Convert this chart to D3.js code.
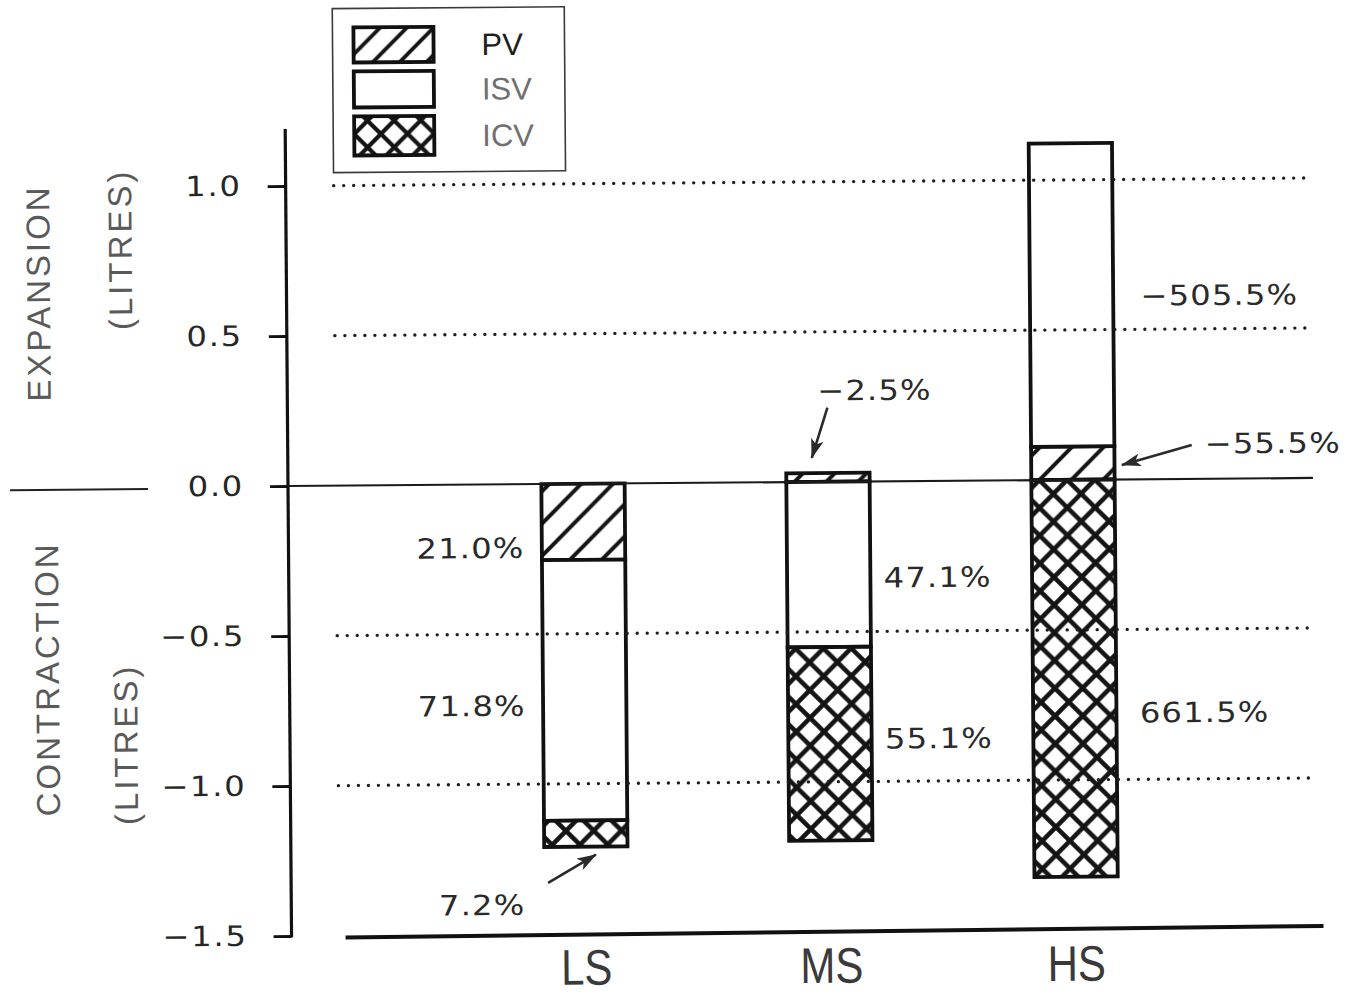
<!DOCTYPE html>
<html>
<head>
<meta charset="utf-8">
<script src="https://cdn.jsdelivr.net/npm/d3@7"></script>
<style>
  body { margin: 0; background: #fff; }
  svg { display: block; }
</style>
</head>
<body>
<svg id="chart" width="1353" height="996"></svg>
<script>
// ---- data -------------------------------------------------------------
const conditions = ["LS", "MS", "HS"];
const components = ["PV", "ISV", "ICV"];
// net volume change of each condition (litres)
const netChange = [-1.21, -1.17, -0.20];
// share of the net change carried by each component (%)
const pvShare  = [21.0, -2.5, -55.5];
const isvShare = [71.8, 47.1, -505.5];
const icvShare = [7.2, 55.1, 661.5];
// y axis
const yTicks = [1.0, 0.5, 0.0, -0.5, -1.0, -1.5];
const gridLevels = [1.0, 0.5, -0.5, -1.0];
const axisTop = 1.19;

// where each share label sits: px offset from the bar centre, height in litres
const labelLayout = [
  { cond: "LS", key: "PV",  anchor: "end",   dx: -59, at: -0.212 },
  { cond: "LS", key: "ISV", anchor: "end",   dx: -59, at: -0.738 },
  { cond: "LS", key: "ICV", anchor: "end",   dx: -61, at: -1.402,
    arrow: { fromDx: -38, fromAt: -1.33, toDx: 10, toAt: -1.237 } },
  { cond: "MS", key: "PV",  anchor: "start", dx: -10, at: 0.305,
    arrow: { fromDx: 0, fromAt: 0.247, toDx: -16, toAt: 0.08 } },
  { cond: "MS", key: "ISV", anchor: "start", dx: 55,  at: -0.32 },
  { cond: "MS", key: "ICV", anchor: "start", dx: 55,  at: -0.857 },
  { cond: "HS", key: "ISV", anchor: "start", dx: 69,  at: 0.613 },
  { cond: "HS", key: "PV",  anchor: "start", dx: 132, at: 0.118,
    arrow: { fromDx: 119, fromAt: 0.113, toDx: 49, toAt: 0.048 } },
  { cond: "HS", key: "ICV", anchor: "start", dx: 65,  at: -0.777 }
];

// ---- derived table ----------------------------------------------------
const shares = { PV: pvShare, ISV: isvShare, ICV: icvShare };
const rows = conditions.map((c, i) => {
  const r = { cond: c };
  components.forEach(k => { r[k] = shares[k][i] / 100 * netChange[i]; });
  return r;
});
const stacked = d3.stack().keys(components).offset(d3.stackOffsetDiverging)(rows);

// ---- scales -----------------------------------------------------------
const x = d3.scaleBand().domain(conditions).range([338, 1318])
  .paddingInner(0.66).paddingOuter(0.83);
const y = d3.scaleLinear().domain([-1.5, 1.0]).range([936, 186]);
const axisX = 288;
const numFont = "'DejaVu Sans', sans-serif";
const wordFont = "'Liberation Sans', Arial, sans-serif";

const svg = d3.select("#chart");
const defs = svg.append("defs");

// hatch patterns, one per bar so that every bar starts on the same phase
function hatchPath(p) {
  return `M0,${p} L${p},0 M-3,3 L3,-3 M${p - 3},${p + 3} L${p + 3},${p - 3}`;
}
function crossPath(p) {
  return `M-3,-3 L${p + 3},${p + 3} M${p + 3},-3 L-3,${p + 3}` +
         ` M-3,3 L3,-3 M${p - 3},-3 L${p + 3},3 M-3,${p - 3} L3,${p + 3} M${p - 3},${p + 3} L${p + 3},${p - 3}`;
}
function addPatterns(id, x0, y0, pHatch, pCross, wHatch, wCross) {
  const h = defs.append("pattern").attr("id", "pv-" + id)
    .attr("patternUnits", "userSpaceOnUse")
    .attr("x", x0).attr("y", y0).attr("width", pHatch).attr("height", pHatch);
  h.append("rect").attr("width", pHatch).attr("height", pHatch).attr("fill", "#fff");
  h.append("path").attr("d", hatchPath(pHatch))
    .attr("stroke", "#141414").attr("stroke-width", wHatch).attr("fill", "none");
  const c = defs.append("pattern").attr("id", "icv-" + id)
    .attr("patternUnits", "userSpaceOnUse")
    .attr("x", x0).attr("y", y0).attr("width", pCross).attr("height", pCross);
  c.append("rect").attr("width", pCross).attr("height", pCross).attr("fill", "#fff");
  c.append("path").attr("d", crossPath(pCross))
    .attr("stroke", "#141414").attr("stroke-width", wCross).attr("fill", "none");
}
conditions.forEach(c => addPatterns(c, x(c) + 8, y(0), 32, x.bandwidth() / 3, 4, 4.6));
addPatterns("legend", 357, 28, 27, 80 / 3, 3.8, 4.2);

const fillFor = (key, id) => key === "PV" ? `url(#pv-${id})` : key === "ICV" ? `url(#icv-${id})` : "#fff";

// arrowhead
defs.append("marker").attr("id", "head")
  .attr("markerUnits", "userSpaceOnUse")
  .attr("viewBox", "0 0 20 13").attr("refX", 19).attr("refY", 6.5)
  .attr("markerWidth", 20).attr("markerHeight", 13).attr("orient", "auto")
  .append("path").attr("d", "M0,0 L20,6.5 L0,13 L5,6.5 Z").attr("fill", "#2a2a2a");

// the whole plot sits slightly askew
const root = svg.append("g").attr("transform", `rotate(-0.45, ${axisX}, ${y(0)})`);

// ---- axis titles ------------------------------------------------------
const titleStyle = sel => sel
  .attr("font-family", wordFont)
  .attr("font-size", 33).attr("fill", "#5a5a5a")
  .attr("text-anchor", "middle").attr("dominant-baseline", "central")
  .style("letter-spacing", "3px");
[
  { t: "EXPANSION",   cx: 40,  cy: 291 },
  { t: "(LITRES)",    cx: 122, cy: 248 },
  { t: "CONTRACTION", cx: 46,  cy: 677 },
  { t: "(LITRES)",    cx: 124, cy: 743 }
].forEach(d => {
  root.append("text").call(titleStyle)
    .attr("transform", `translate(${d.cx},${d.cy}) rotate(-90)`).text(d.t);
});
root.append("line").attr("x1", 10).attr("x2", 148)
  .attr("y1", y(0) + 2).attr("y2", y(0) + 2)
  .attr("stroke", "#222").attr("stroke-width", 2);

// ---- y axis -----------------------------------------------------------
const yAxis = d3.axisLeft(y).tickValues(yTicks).tickSize(18).tickPadding(22)
  .tickFormat(d3.format(".1f"));
const gAxis = root.append("g").attr("transform", `translate(${axisX},0)`).call(yAxis);
gAxis.select(".domain").remove();
gAxis.selectAll(".tick line").attr("stroke", "#111").attr("stroke-width", 2.8);
gAxis.selectAll(".tick text")
  .attr("x", null)
  .attr("transform", "translate(-44,0) scale(1.15,1)")
  .attr("font-family", numFont).attr("font-size", 28)
  .attr("fill", "#262626").style("letter-spacing", "1.5px");
root.append("line").attr("x1", axisX).attr("x2", axisX)
  .attr("y1", y(axisTop)).attr("y2", y(-1.5) + 1.4)
  .attr("stroke", "#111").attr("stroke-width", 3.2);

// ---- bars -------------------------------------------------------------
const gBars = root.append("g");
stacked.forEach(layer => {
  gBars.selectAll(null).data(layer).join("rect")
    .attr("x", d => x(d.data.cond))
    .attr("width", x.bandwidth())
    .attr("y", d => y(Math.max(d[0], d[1])))
    .attr("height", d => Math.abs(y(d[0]) - y(d[1])))
    .attr("fill", d => fillFor(layer.key, d.data.cond))
    .attr("stroke", "#111").attr("stroke-width", 3.8);
});

// zero line and dotted reference levels
root.append("line").attr("x1", axisX).attr("x2", 1313)
  .attr("y1", y(0)).attr("y2", y(0))
  .attr("stroke", "#1a1a1a").attr("stroke-width", 2.2);
root.selectAll(".grid").data(gridLevels).join("line")
  .attr("class", "grid")
  .attr("x1", 336).attr("x2", 1312)
  .attr("y1", d => y(d)).attr("y2", d => y(d))
  .attr("stroke", "#1e1e1e").attr("stroke-width", 3.3)
  .attr("stroke-linecap", "round").attr("stroke-dasharray", "0.1 9.9");

// base line under the categories
root.append("line").attr("x1", 342).attr("x2", 1320)
  .attr("y1", y(-1.5) + 2).attr("y2", y(-1.5) - 2)
  .attr("stroke", "#111").attr("stroke-width", 4);

// category labels
root.selectAll(".cat").data(conditions).join("text")
  .attr("class", "cat")
  .attr("transform", d => `translate(${x(d) + x.bandwidth() / 2},${y(-1.5) + 51}) scale(0.84,1)`)
  .attr("text-anchor", "middle")
  .attr("font-family", wordFont)
  .attr("font-size", 50).attr("fill", "#3a3a3a")
  .text(d => d);

// ---- share labels and arrows -----------------------------------------
const fmtShare = v => (v < 0 ? "\u2212" : "") + Math.abs(v).toFixed(1) + "%";
labelLayout.forEach(l => {
  const i = conditions.indexOf(l.cond);
  const cx = x(l.cond) + x.bandwidth() / 2;
  root.append("text")
    .attr("transform", `translate(${cx + l.dx},${y(l.at)}) scale(1.15,1)`)
    .attr("dy", "0.36em")
    .attr("text-anchor", l.anchor)
    .attr("font-family", numFont).attr("font-size", 28)
    .attr("fill", "#2a2a2a").style("letter-spacing", "1px")
    .text(fmtShare(shares[l.key][i]));
  if (l.arrow) {
    root.append("line")
      .attr("x1", cx + l.arrow.fromDx).attr("y1", y(l.arrow.fromAt))
      .attr("x2", cx + l.arrow.toDx).attr("y2", y(l.arrow.toAt))
      .attr("stroke", "#2a2a2a").attr("stroke-width", 2.6)
      .attr("marker-end", "url(#head)");
  }
});

// ---- legend -----------------------------------------------------------
const legend = root.append("g");
legend.append("rect").attr("x", 336).attr("y", 9).attr("width", 232).attr("height", 164)
  .attr("fill", "#fff").attr("stroke", "#3a3a3a").attr("stroke-width", 1.6);
const legendRows = [
  { key: "PV",  y: 28,  h: 35, color: "#1e1e1e" },
  { key: "ISV", y: 72,  h: 36, color: "#707070" },
  { key: "ICV", y: 117, h: 39, color: "#707070" }
];
legendRows.forEach(r => {
  legend.append("rect").attr("x", 357).attr("y", r.y).attr("width", 80).attr("height", r.h)
    .attr("fill", fillFor(r.key, "legend"))
    .attr("stroke", "#111").attr("stroke-width", 3.8);
  legend.append("text").attr("x", 485).attr("y", r.y + r.h / 2).attr("dy", "0.36em")
    .attr("font-family", wordFont)
    .attr("font-size", 31).attr("fill", r.color)
    .text(r.key);
});
</script>
</body>
</html>
